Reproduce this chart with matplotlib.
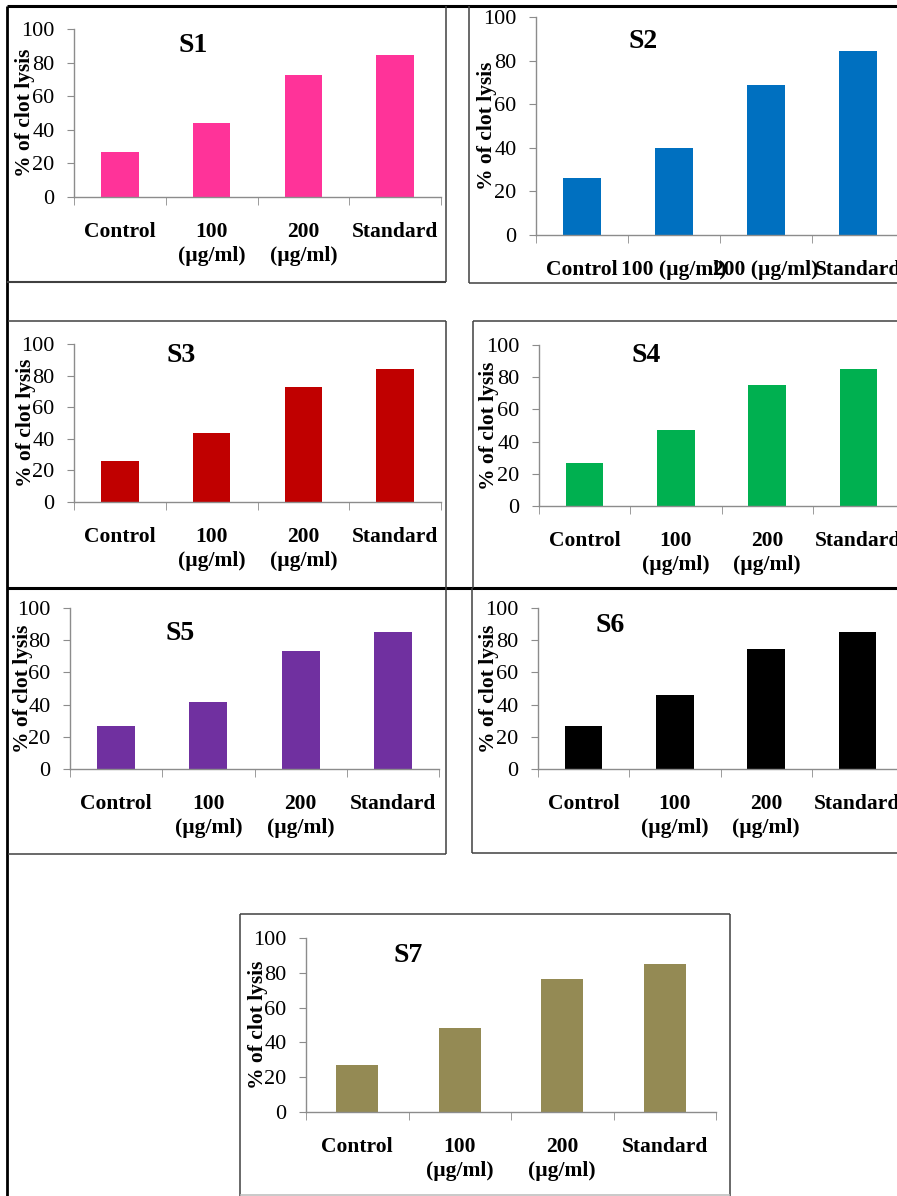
import matplotlib
matplotlib.use('Agg')
import matplotlib.pyplot as plt
from matplotlib.lines import Line2D
from matplotlib.ticker import FixedLocator

plt.rcParams['font.family'] = ['Liberation Serif', 'DejaVu Serif']

W, H = 897, 1196  # figure size in px

# data
categories = ['Control', '100\n(µg/ml)', '200\n(µg/ml)', 'Standard']
categories_one_line = ['Control', '100 (µg/ml)', '200 (µg/ml)', 'Standard']
titles = ['S1', 'S2', 'S3', 'S4', 'S5', 'S6', 'S7']
s1_lysis = [26.8, 43.8, 72.8, 84.3]
s2_lysis = [26.3, 39.9, 68.8, 84.3]
s3_lysis = [26.0, 43.6, 73.0, 84.0]
s4_lysis = [26.7, 47.0, 75.3, 84.9]
s5_lysis = [26.7, 41.4, 73.2, 84.9]
s6_lysis = [26.7, 46.1, 74.3, 84.9]
s7_lysis = [26.8, 48.1, 76.3, 84.9]
yticks = [0, 20, 40, 60, 80, 100]
colors = ['#FF3399', '#0070C0', '#C00000', '#00B050', '#7030A0', '#000000', '#948A54']
all_lysis = [s1_lysis, s2_lysis, s3_lysis, s4_lysis, s5_lysis, s6_lysis, s7_lysis]

# layout in px: axis left, axis right, y of 0, y of 100, title x, title y, ylabel x, one-line labels
layout = [
    (74, 441, 197, 29, 193, 46, 25, False),
    (536, 904, 235, 17, 643, 41, 487, True),
    (74, 441, 502, 344, 181, 355, 26, False),
    (539, 904, 506, 345, 646, 355, 489, False),
    (70, 439, 769, 608, 180, 634, 23, False),
    (538, 903, 769, 608, 610, 625, 489, False),
    (306, 716, 1112, 938, 408, 955, 258, False),
]

fig = plt.figure(figsize=(W / 100, H / 100), dpi=100)
fig.patch.set_facecolor('white')


def fx(x):
    return x / W


def fy(y):
    return 1 - y / H


def line(x0, y0, x1, y1, lw=1.1, color='#404040'):
    fig.add_artist(Line2D([fx(x0), fx(x1)], [fy(y0), fy(y1)], transform=fig.transFigure,
                          lw=lw, color=color, solid_capstyle='butt'))


# panel frames
line(7, 6, 897, 6, lw=2.2, color='black')
line(7, 6, 7, 1196, lw=2.0, color='black')
line(7, 588, 897, 588, lw=2.2, color='black')
line(446, 6, 446, 282)
line(7, 282, 446, 282, lw=1.5)
line(469, 6, 469, 283)
line(469, 283, 897, 283)
line(8, 321, 446, 321)
line(446, 321, 446, 588)
line(473, 321, 897, 321)
line(473, 321, 473, 588)
line(446, 588, 446, 854)
line(8, 854, 446, 854)
line(472, 588, 472, 853)
line(472, 853, 897, 853)
line(240, 914, 730, 914)
line(240, 914, 240, 1196)
line(730, 914, 730, 1196)
line(240, 1195, 730, 1195, color='#bbbbbb')

axis_gray = '#8c8c8c'
x = list(range(len(categories)))

for i, (vals, title, color, lay) in enumerate(zip(all_lysis, titles, colors, layout)):
    left, right, y0, y100, tx, ty, ylx, one_line = lay
    ax = fig.add_axes([fx(left), fy(y0), (right - left) / W, (y0 - y100) / H])
    ax.patch.set_alpha(0)
    ax.bar(x, vals, width=0.41, color=color)
    ax.set_xlim(-0.5, 3.5)
    ax.set_ylim(0, 100)
    for s in ['top', 'right']:
        ax.spines[s].set_visible(False)
    for s in ['left', 'bottom']:
        ax.spines[s].set_color(axis_gray)
        ax.spines[s].set_linewidth(1.0)
    ax.set_yticks(yticks)
    ax.tick_params(axis='y', length=5, color=axis_gray, pad=9, labelsize=16)
    ax.set_xticks(x)
    ax.set_xticklabels(categories_one_line if one_line else categories,
                       fontweight='bold', fontsize=15.5, linespacing=1.28)
    ax.tick_params(axis='x', which='major', length=0, pad=18)
    ax.xaxis.set_minor_locator(FixedLocator([-0.5, 0.5, 1.5, 2.5, 3.5]))
    ax.tick_params(axis='x', which='minor', length=6, color=axis_gray)
    fig.text(fx(tx), fy(ty), title, ha='center', va='center', fontsize=20, fontweight='bold')
    fig.text(fx(ylx), fy((y0 + y100) / 2), '% of clot lysis', rotation=90, ha='center',
             va='center', fontsize=15.5, fontweight='bold')

fig.savefig('out.png', dpi=100, facecolor='white')
